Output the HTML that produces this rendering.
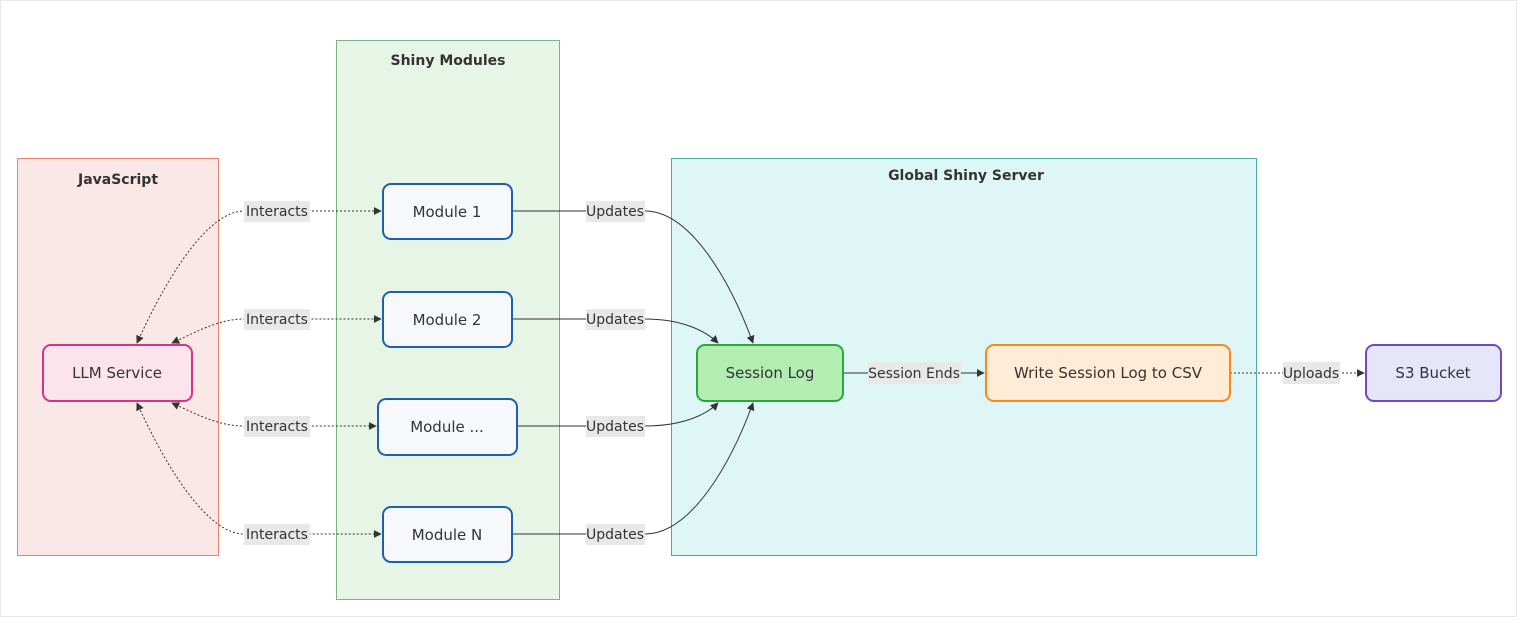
<!DOCTYPE html>
<html><head><meta charset="utf-8"><style>
html,body{margin:0;padding:0;background:#fff;}
body{width:1518px;height:617px;overflow:hidden;}
svg text{font-family:"Trebuchet MS","DejaVu Sans","Liberation Sans",sans-serif;fill:#333;}
</style></head><body>
<svg width="1518" height="617" viewBox="0 0 1518 617" xmlns="http://www.w3.org/2000/svg">
<defs>
<marker id="ah" viewBox="0 0 10 10" refX="9" refY="5" markerWidth="8" markerHeight="8" orient="auto-start-reverse"><path d="M0,0L10,5L0,10z" fill="#333"/></marker>
</defs>
<rect x="0.5" y="0.5" width="1516" height="616" fill="#fff" stroke="#e8e8e8"/>
<!-- clusters -->
<rect x="17.5" y="158.5" width="201" height="397" fill="#fae8e6" stroke="#e8806a"/>
<text x="118" y="184" font-size="14" font-weight="bold" text-anchor="middle">JavaScript</text>
<rect x="336.5" y="40.5" width="223" height="559" fill="#e6f5e6" stroke="#7fb07f"/>
<text x="448" y="65" font-size="14" font-weight="bold" text-anchor="middle">Shiny Modules</text>
<rect x="671.5" y="158.5" width="585" height="397" fill="#dff6f7" stroke="#4aa8a8"/>
<text x="966" y="180" font-size="14" font-weight="bold" text-anchor="middle">Global Shiny Server</text>
<!-- interacts edges -->
<g fill="none" stroke="#333" stroke-width="1" stroke-dasharray="2,2">
<path d="M137,343 C170,270 210,211 244,211 L381,211" marker-start="url(#ah)" marker-end="url(#ah)"/>
<path d="M172,343 C200,330 220,319 244,319 L381,319" marker-start="url(#ah)" marker-end="url(#ah)"/>
<path d="M172,403 C200,416 220,426 244,426 L376,426" marker-start="url(#ah)" marker-end="url(#ah)"/>
<path d="M137,403 C170,476 210,534 244,534 L381,534" marker-start="url(#ah)" marker-end="url(#ah)"/>
<path d="M1230,373 L1364,373" marker-end="url(#ah)"/>
</g>
<g fill="none" stroke="#333" stroke-width="1">
<path d="M512,211 L645,211 C690,211 730,280 753,343" marker-end="url(#ah)"/>
<path d="M512,319 L645,319 C680,319 705,330 718,343" marker-end="url(#ah)"/>
<path d="M517,426 L645,426 C680,426 705,416 718,403" marker-end="url(#ah)"/>
<path d="M512,534 L645,534 C690,534 730,466 753,403" marker-end="url(#ah)"/>
<path d="M843,373 L984,373" marker-end="url(#ah)"/>
</g>
<!-- labels -->
<g font-size="14">
<rect x="244" y="201" width="66" height="21" fill="#e8e8e8"/><text x="277" y="216" text-anchor="middle">Interacts</text>
<rect x="244" y="309" width="66" height="21" fill="#e8e8e8"/><text x="277" y="324" text-anchor="middle">Interacts</text>
<rect x="244" y="416" width="66" height="21" fill="#e8e8e8"/><text x="277" y="431" text-anchor="middle">Interacts</text>
<rect x="244" y="524" width="66" height="21" fill="#e8e8e8"/><text x="277" y="539" text-anchor="middle">Interacts</text>
<rect x="586" y="201" width="59" height="21" fill="#e8e8e8"/><text x="615" y="216" text-anchor="middle">Updates</text>
<rect x="586" y="309" width="59" height="21" fill="#e8e8e8"/><text x="615" y="324" text-anchor="middle">Updates</text>
<rect x="586" y="416" width="59" height="21" fill="#e8e8e8"/><text x="615" y="431" text-anchor="middle">Updates</text>
<rect x="586" y="524" width="59" height="21" fill="#e8e8e8"/><text x="615" y="539" text-anchor="middle">Updates</text>
<rect x="868" y="362" width="93" height="22" fill="#e8e8e8"/><text x="914" y="378" text-anchor="middle">Session Ends</text>
<rect x="1283" y="362" width="57" height="22" fill="#e8e8e8"/><text x="1311" y="378" text-anchor="middle">Uploads</text>
</g>
<!-- nodes -->
<g font-size="15" stroke-width="2">
<rect x="383" y="184" width="129" height="55" rx="8" fill="#f6f8fc" stroke="#1f5fb0"/>
<rect x="383" y="292" width="129" height="55" rx="8" fill="#f6f8fc" stroke="#1f5fb0"/>
<rect x="378" y="399" width="139" height="56" rx="8" fill="#f6f8fc" stroke="#1f5fb0"/>
<rect x="383" y="507" width="129" height="55" rx="8" fill="#f6f8fc" stroke="#1f5fb0"/>
<rect x="43" y="345" width="149" height="56" rx="8" fill="#fde4ec" stroke="#d63384"/>
<rect x="697" y="345" width="146" height="56" rx="8" fill="#b2eeb2" stroke="#2aa640"/>
<rect x="986" y="345" width="244" height="56" rx="8" fill="#ffebd6" stroke="#f58a1f"/>
<rect x="1366" y="345" width="135" height="56" rx="8" fill="#e6e6fb" stroke="#7049c7"/>
</g>
<g font-size="15" text-anchor="middle">
<text x="447" y="217">Module 1</text>
<text x="447" y="325">Module 2</text>
<text x="447" y="432">Module ...</text>
<text x="447" y="540">Module N</text>
<text x="117" y="378">LLM Service</text>
<text x="770" y="378">Session Log</text>
<text x="1108" y="378">Write Session Log to CSV</text>
<text x="1433" y="378">S3 Bucket</text>
</g>
</svg>
</body></html>
